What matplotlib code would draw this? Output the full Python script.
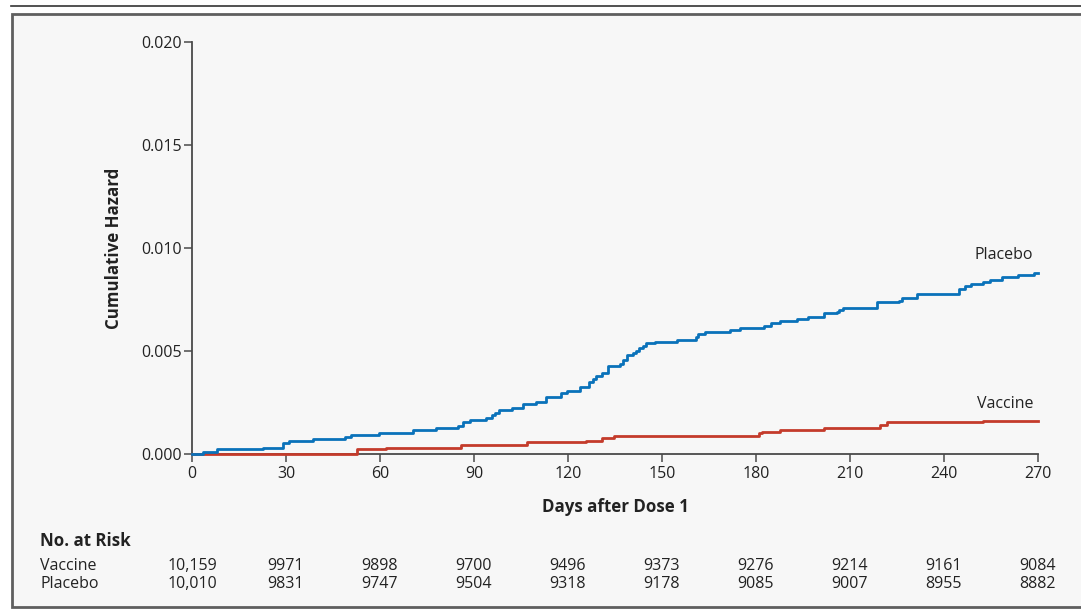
import matplotlib
matplotlib.use("Agg")
import matplotlib.pyplot as plt
import matplotlib.transforms as mtransforms
from matplotlib.patches import Rectangle
from matplotlib.lines import Line2D

plt.rcParams['font.family'] = ['Open Sans', 'DejaVu Sans']

# ---- data ----
placebo_days = [0, 3.6, 7.9, 22.8, 28.9, 31.1, 38.7, 48.8, 50.6, 59.8, 70.6, 77.9, 85.0, 86.6,
                88.7, 93.8, 95.7, 96.7, 98.1, 102.0, 105.7, 109.8, 113.0, 117.7, 119.6, 123.8,
                126.8, 127.9, 128.9, 130.8, 132.9, 136.6, 137.7, 138.7, 140.6, 141.7, 142.8,
                143.8, 144.9, 147.8, 154.7, 160.9, 161.6, 163.7, 171.7, 174.9, 182.7, 184.7,
                187.7, 193.0, 196.7, 201.7, 205.8, 206.6, 207.7, 218.7, 225.7, 226.6, 231.5,
                244.9, 246.7, 248.5, 252.5, 254.7, 258.4, 263.7, 268.7, 270]
placebo_hazard = [0, 0.00011, 0.00023, 0.00031, 0.00052, 0.00062, 0.00071, 0.00081, 0.00092,
                  0.00103, 0.00117, 0.00128, 0.00138, 0.00155, 0.00165, 0.00176, 0.00188,
                  0.00199, 0.00212, 0.00223, 0.00243, 0.00251, 0.00278, 0.00298, 0.00307,
                  0.00327, 0.00351, 0.00366, 0.00381, 0.00392, 0.00429, 0.00439, 0.00456,
                  0.00481, 0.00492, 0.00501, 0.00513, 0.00526, 0.00537, 0.00545, 0.00553,
                  0.00567, 0.00581, 0.00592, 0.00601, 0.00612, 0.00623, 0.00637, 0.00647,
                  0.00657, 0.00667, 0.00683, 0.00691, 0.00699, 0.00710, 0.00736, 0.00744,
                  0.00756, 0.00779, 0.00800, 0.00816, 0.00827, 0.00836, 0.00845, 0.00861,
                  0.00870, 0.00880, 0.00880]

vaccine_days = [0, 52.6, 62.0, 85.9, 106.8, 125.8, 130.8, 134.8, 180.8, 182.0, 187.7, 201.8,
                219.6, 221.7, 252.5, 270]
vaccine_hazard = [0, 0.00023, 0.00031, 0.00044, 0.00056, 0.00063, 0.00079, 0.00088, 0.00100,
                  0.00107, 0.00117, 0.00128, 0.00142, 0.00154, 0.00162, 0.00162]

x_ticks = [0, 30, 60, 90, 120, 150, 180, 210, 240, 270]
y_ticks = [0.000, 0.005, 0.010, 0.015, 0.020]
y_tick_labels = ["0.000", "0.005", "0.010", "0.015", "0.020"]

risk_vaccine = ["10,159", "9971", "9898", "9700", "9496", "9373", "9276", "9214", "9161", "9084"]
risk_placebo = ["10,010", "9831", "9747", "9504", "9318", "9178", "9085", "9007", "8955", "8882"]

# ---- figure ----
W, H = 1081, 615
fig = plt.figure(figsize=(W / 100, H / 100), dpi=100)
fig.patch.set_facecolor("white")

def fx(px):
    return px / W

def fy(py):
    return 1 - py / H

# outer panel
panel = Rectangle((fx(11.5), fy(607)), fx(1100) - fx(11.5), fy(13.5) - fy(607),
                  transform=fig.transFigure, facecolor="#f7f7f7",
                  edgecolor="#5f5f5f", linewidth=2.0, zorder=-10)
fig.patches.append(panel)
fig.lines.append(Line2D([fx(11), 1.0], [fy(5.5), fy(5.5)], transform=fig.transFigure,
                        color="#333333", linewidth=1.2, zorder=-10))

ax = fig.add_axes([fx(192), fy(454), fx(1038) - fx(192), fy(42) - fy(454)])
ax.set_zorder(5)
ax.set_facecolor("none")

blue = "#0a72ba"
red = "#c43b2b"
ax.step(vaccine_days, vaccine_hazard, where="post", color=red, linewidth=2.0, zorder=3,
        clip_on=False)
ax.step(placebo_days, placebo_hazard, where="post", color=blue, linewidth=2.0, zorder=4,
        clip_on=False)

ax.set_xlim(0, 270)
ax.set_ylim(0, 0.020)
ax.set_xticks(x_ticks)
ax.set_xticklabels([str(t) for t in x_ticks])
ax.set_yticks(y_ticks)
ax.set_yticklabels(y_tick_labels)

for s in ["top", "right"]:
    ax.spines[s].set_visible(False)
for s in ["left", "bottom"]:
    ax.spines[s].set_color("#4a4a4a")
    ax.spines[s].set_linewidth(1.3)
    ax.spines[s].set_zorder(2)

ax.tick_params(axis="both", direction="out", length=5.5, width=1.1, color="#4a4a4a",
               labelsize=11.5, labelcolor="#222222")
ax.tick_params(axis="x", pad=3)
ax.tick_params(axis="y", pad=2)

ax.set_xlabel("Days after Dose 1", fontsize=12.2, fontweight="bold", color="#222222",
              labelpad=12)
ax.set_ylabel("Cumulative Hazard", fontsize=12.2, fontweight="bold", color="#222222",
              labelpad=13)

ax.text(268.5, 0.00965, "Placebo", ha="right", va="center", fontsize=11.5, color="#222222")
ax.text(268.5, 0.00243, "Vaccine", ha="right", va="center", fontsize=11.5, color="#222222")

# number at risk table
fig.text(fx(40), fy(541), "No. at Risk", ha="left", va="center", fontsize=12.2,
         fontweight="bold", color="#222222")
fig.text(fx(40), fy(566), "Vaccine", ha="left", va="center", fontsize=11.5, color="#222222")
fig.text(fx(40), fy(584), "Placebo", ha="left", va="center", fontsize=11.5, color="#222222")
blend = mtransforms.blended_transform_factory(ax.transData, fig.transFigure)
for t, v, p in zip(x_ticks, risk_vaccine, risk_placebo):
    ax.text(t, fy(566), v, transform=blend, ha="center", va="center", fontsize=11.5,
            color="#222222", clip_on=False)
    ax.text(t, fy(584), p, transform=blend, ha="center", va="center", fontsize=11.5,
            color="#222222", clip_on=False)

fig.savefig("out.png", dpi=100, facecolor=fig.get_facecolor())
